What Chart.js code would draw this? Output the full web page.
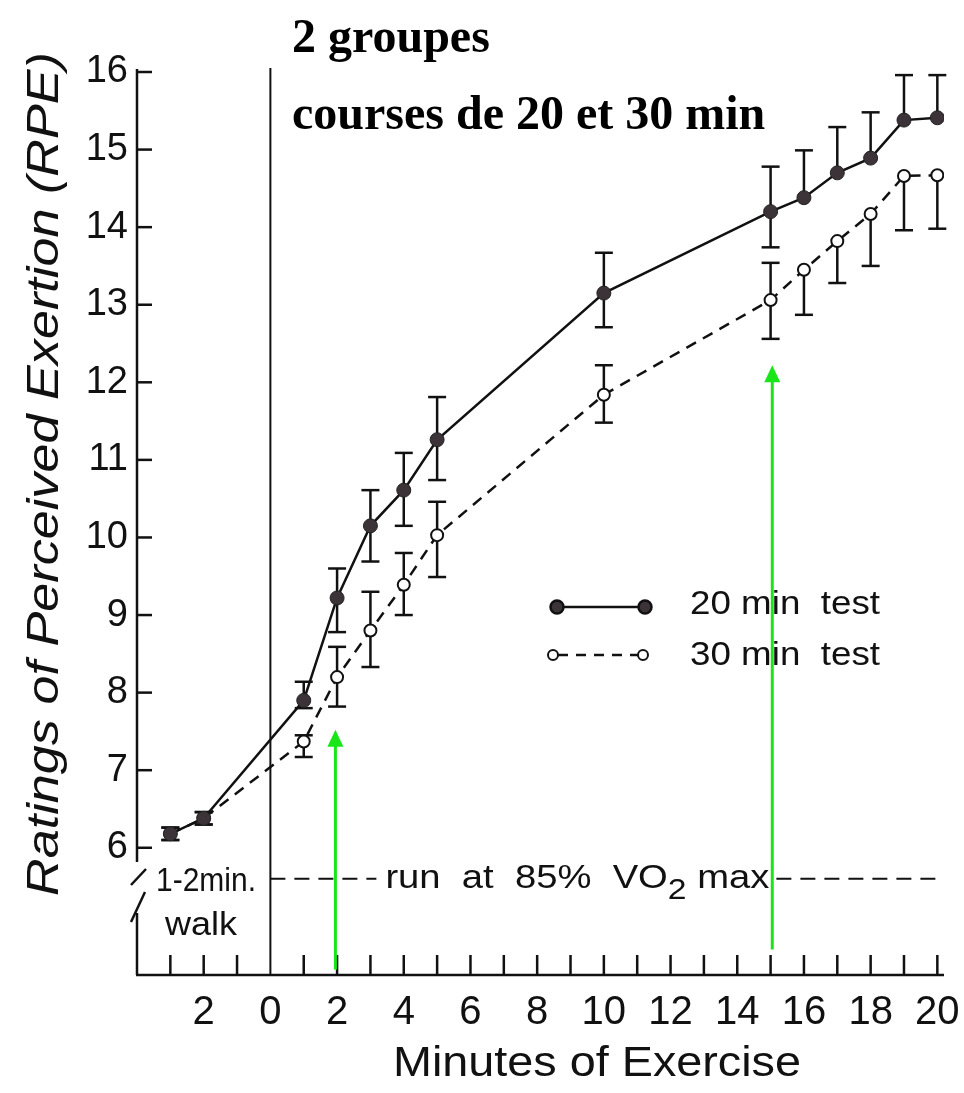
<!DOCTYPE html>
<html>
<head>
<meta charset="utf-8">
<script src="https://cdn.jsdelivr.net/npm/chart.js@4.4.0/dist/chart.umd.min.js"></script>
<style>
  html, body { margin: 0; padding: 0; background: #fff; }
</style>
</head>
<body>
<canvas id="myChart" width="964" height="1093"></canvas>
<script>
// minutes: -3 and -2 are the walk, then minutes of the run
const minutes = [-3, -2, 1, 2, 3, 4, 5, 10, 15, 16, 17, 18, 19, 20];

const rpe20   = [6.18, 6.38, 7.90, 9.22, 10.15, 10.61, 11.26, 13.15, 14.20, 14.38, 14.70, 14.89, 15.38, 15.41];
const rpe20Hi = [6.26, 6.46, 8.14, 9.60, 10.61, 11.09, 11.81, 13.67, 14.78, 14.99, 15.29, 15.48, 15.96, 15.96];
const rpe20Lo = [6.10, 6.30, 7.80, 8.78, 9.69, 10.15, 10.74, 12.71, 13.74, 14.38, 14.70, 14.89, 15.38, 15.41];

const rpe30   = [6.18, 6.38, 7.37, 8.20, 8.80, 9.39, 10.03, 11.84, 13.06, 13.45, 13.82, 14.17, 14.66, 14.67];
const rpe30Hi = [6.26, 6.46, 7.45, 8.59, 9.30, 9.80, 10.46, 12.22, 13.54, 13.45, 13.82, 14.17, 14.66, 14.67];
const rpe30Lo = [6.10, 6.30, 7.17, 7.82, 8.33, 9.00, 9.49, 11.48, 12.56, 12.87, 13.28, 13.50, 13.96, 13.98];

const xTicks = [-2, 0, 2, 4, 6, 8, 10, 12, 14, 16, 18, 20];
const yTicks = [6, 7, 8, 9, 10, 11, 12, 13, 14, 15, 16];

// green arrows (x minute, from rpe, to rpe)
const arrowX    = [1.95, 15.05];
const arrowFrom = [4.43, 4.69];
const arrowTo   = [7.52, 12.22];

const runLevel = 5.6;   // height of the "run at 85% VO2 max" dashed line

const INK = '#111';
const SANS = '"Liberation Sans", Arial, sans-serif';

let toXY = (ys) => minutes.map((m, i) => ({ x: m, y: ys[i] }));

// draws text squeezed/stretched to a given width
let fitText = (ctx, text, x, y, size, width, align, style) => {
  ctx.save();
  ctx.font = (style || '') + ' ' + size + 'px ' + SANS;
  const w = ctx.measureText(text).width;
  ctx.translate(x, y);
  ctx.scale(width / w, 1);
  ctx.textAlign = align || 'left';
  ctx.textBaseline = 'middle';
  ctx.fillText(text, 0, 0);
  ctx.restore();
};

let seg = (ctx, x1, y1, x2, y2) => {
  ctx.beginPath(); ctx.moveTo(x1, y1); ctx.lineTo(x2, y2); ctx.stroke();
};

const decor = {
  id: 'decor',
  beforeDatasetsDraw(chart) {
    const { ctx, scales: { x, y }, chartArea: a } = chart;
    ctx.save();
    ctx.strokeStyle = INK;
    ctx.fillStyle = INK;
    ctx.lineWidth = 2.5;

    // x axis + inside ticks
    seg(ctx, a.left - 1, a.bottom, a.right, a.bottom);
    for (let m = -3; m <= 20; m++) {
      if (m === 0) continue;
      const px = x.getPixelForValue(m);
      seg(ctx, px, a.bottom, px, a.bottom - 20);
    }
    // y axis with a break
    seg(ctx, a.left, a.top - 3, a.left, a.bottom - 113);
    seg(ctx, a.left, a.bottom - 62, a.left, a.bottom);
    seg(ctx, a.left - 6, a.bottom - 90, a.left + 9, a.bottom - 106);
    seg(ctx, a.left - 6, a.bottom - 53, a.left + 8, a.bottom - 83);
    yTicks.forEach((v) => {
      const py = y.getPixelForValue(v);
      seg(ctx, a.left, py, a.left + 15, py);
    });

    // start of the run
    ctx.lineWidth = 2;
    const x0 = x.getPixelForValue(0);
    seg(ctx, x0, a.top - 4, x0, a.bottom);

    // run at 85% line
    const ry = y.getPixelForValue(runLevel);
    ctx.setLineDash([15, 9]);
    seg(ctx, x0, ry, x0 + 106, ry);
    seg(ctx, x0 + 506, ry, x0 + 667, ry);
    ctx.setLineDash([]);

    // run label with subscript
    ctx.font = '34px ' + SANS;
    const p1 = 'run  at  85%  VO', p3 = ' max';
    const w1 = ctx.measureText(p1).width, w3 = ctx.measureText(p3).width;
    ctx.font = '30px ' + SANS;
    const w2 = ctx.measureText('2').width;
    const s = 384 / (w1 + w2 + w3);
    ctx.save();
    ctx.translate(x0 + 115, ry);
    ctx.scale(s, 1);
    ctx.textBaseline = 'middle';
    ctx.font = '34px ' + SANS;
    ctx.fillText(p1, 0, 0);
    ctx.font = '30px ' + SANS;
    ctx.fillText('2', w1, 12);
    ctx.font = '34px ' + SANS;
    ctx.fillText(p3, w1 + w2, 0);
    ctx.restore();

    // walk label
    fitText(ctx, '1-2min.', 206, 882, 34, 100, 'center');
    fitText(ctx, 'walk', 201, 926, 34, 72, 'center');

    // error bars
    const sets = [[rpe20, rpe20Hi, rpe20Lo], [rpe30, rpe30Hi, rpe30Lo]];
    ctx.lineWidth = 2.5;
    sets.forEach(([mid, hi, lo]) => {
      minutes.forEach((m, i) => {
        const px = x.getPixelForValue(m);
        const pm = y.getPixelForValue(mid[i]);
        [hi[i], lo[i]].forEach((v) => {
          if (Math.abs(v - mid[i]) < 0.01) return;
          const pv = y.getPixelForValue(v);
          seg(ctx, px, pm, px, pv);
          seg(ctx, px - 9, pv, px + 9, pv);
        });
      });
    });
    ctx.restore();
  },
  afterDatasetsDraw(chart) {
    const { ctx, scales: { x, y } } = chart;
    ctx.save();
    ctx.strokeStyle = '#19e619';
    ctx.fillStyle = '#19e619';
    ctx.lineWidth = 3;
    arrowX.forEach((m, i) => {
      const px = x.getPixelForValue(m);
      const p1 = y.getPixelForValue(arrowFrom[i]);
      const p2 = y.getPixelForValue(arrowTo[i]);
      seg(ctx, px, p1, px, p2 + 14);
      ctx.beginPath();
      ctx.moveTo(px, p2);
      ctx.lineTo(px - 8, p2 + 17);
      ctx.lineTo(px + 8, p2 + 17);
      ctx.closePath();
      ctx.fill();
    });
    ctx.restore();
  },
  afterDraw(chart) {
    const { ctx } = chart;
    ctx.save();
    ctx.fillStyle = '#000';
    ctx.strokeStyle = INK;

    // titles
    ctx.font = 'bold 48px "Liberation Serif", "Times New Roman", serif';
    ctx.textBaseline = 'alphabetic';
    ctx.fillText('2 groupes', 292, 52);
    ctx.fillText('courses de 20 et 30 min', 292, 129);

    ctx.fillStyle = INK;
    // y title
    ctx.save();
    ctx.translate(46, 474);
    ctx.rotate(-Math.PI / 2);
    fitText(ctx, 'Ratings of Perceived Exertion (RPE)', 0, 0, 44, 844, 'center', 'italic');
    ctx.restore();

    // x title
    fitText(ctx, 'Minutes of Exercise', 597, 1064, 42, 408, 'center');

    // legend
    ctx.lineWidth = 2.5;
    seg(ctx, 557, 607, 645, 607);
    ctx.fillStyle = '#3b3338';
    [557, 645].forEach((cx) => {
      ctx.beginPath(); ctx.arc(cx, 607, 6.5, 0, Math.PI * 2); ctx.fill(); ctx.stroke();
    });
    ctx.setLineDash([10, 8]);
    seg(ctx, 558, 655, 638, 655);
    ctx.setLineDash([]);
    ctx.fillStyle = '#fff';
    ctx.lineWidth = 2;
    [553, 643].forEach((cx) => {
      ctx.beginPath(); ctx.arc(cx, 655, 5, 0, Math.PI * 2); ctx.fill(); ctx.stroke();
    });
    ctx.fillStyle = INK;
    fitText(ctx, '20 min  test', 690, 605, 34, 190, 'left');
    fitText(ctx, '30 min  test', 690, 656, 34, 190, 'left');
    ctx.restore();
  }
};

const ctx = document.getElementById('myChart');

const dataset = {
  datasets: [
    {
      label: '20 min test',
      data: toXY(rpe20),
      borderColor: INK,
      borderWidth: 2.5,
      pointRadius: 7,
      pointBackgroundColor: '#3b3338',
      pointBorderColor: '#222',
      pointBorderWidth: 1,
      tension: 0
    },
    {
      label: '30 min test',
      data: toXY(rpe30),
      borderColor: INK,
      borderWidth: 2.5,
      borderDash: [11, 8],
      pointRadius: 6,
      pointBackgroundColor: '#fff',
      pointBorderColor: INK,
      pointBorderWidth: 2,
      tension: 0
    }
  ]
};

const config = {
  type: 'line',
  data: dataset,
  plugins: [decor],
  options: {
    responsive: false,
    animation: false,
    devicePixelRatio: 1,
    layout: { padding: { left: 0, top: 72, right: 20, bottom: 0 } },
    plugins: { legend: { display: false }, tooltip: { enabled: false } },
    scales: {
      x: {
        type: 'linear',
        min: -4,
        max: 20.2,
        grid: { display: false, drawTicks: false },
        border: { display: false },
        afterBuildTicks: (scale) => { scale.ticks = xTicks.map((v) => ({ value: v })); },
        afterFit: (scale) => {
          scale.height = 118;
          scale.paddingLeft = 0;
          scale.paddingRight = 0;
        },
        ticks: {
          autoSkip: false,
          maxRotation: 0,
          padding: 14,
          color: INK,
          font: { family: 'Liberation Sans', size: 40 },
          callback: (v) => String(Math.abs(v))
        }
      },
      y: {
        min: 4.36,
        max: 16,
        grid: { display: false, drawTicks: false },
        border: { display: false },
        afterBuildTicks: (scale) => { scale.ticks = yTicks.map((v) => ({ value: v })); },
        afterFit: (scale) => {
          scale.width = 137;
          scale.paddingTop = 0;
          scale.paddingBottom = 0;
        },
        ticks: {
          padding: 9,
          color: INK,
          font: { family: 'Liberation Sans', size: 38 }
        }
      }
    }
  }
};

const chart = new Chart(ctx, config);
</script>
</body>
</html>
